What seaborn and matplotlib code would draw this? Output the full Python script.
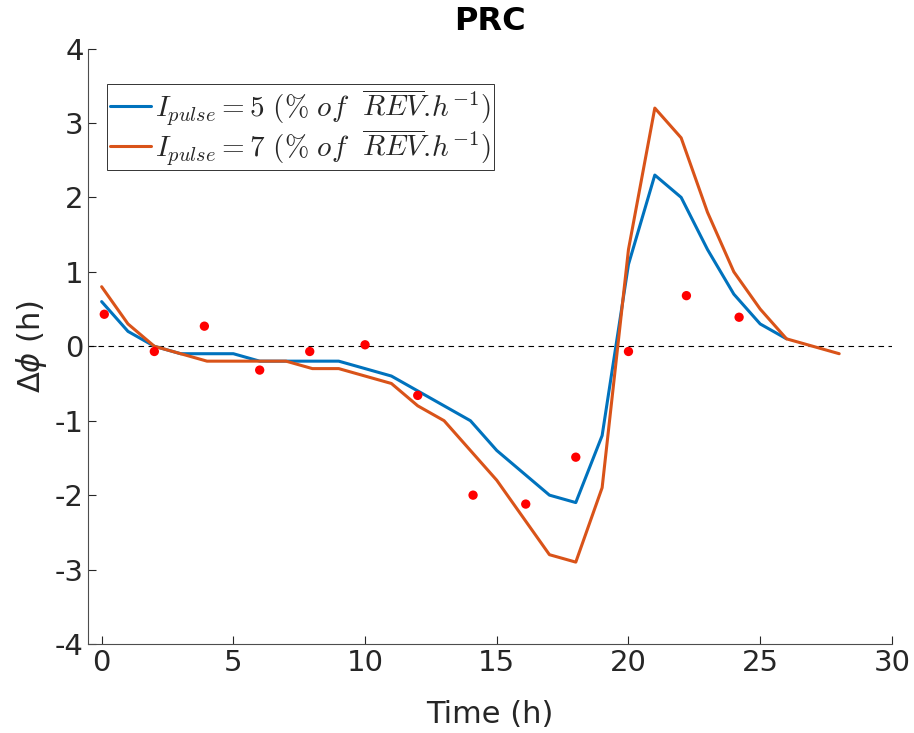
import matplotlib
matplotlib.use('Agg')
import matplotlib.pyplot as plt
from matplotlib.font_manager import FontProperties
import seaborn as sns
import pandas as pd

sns.set_style('ticks')
plt.rcParams['font.family'] = ['DejaVu Sans']
plt.rcParams['axes.unicode_minus'] = False

# data
hours_5 = list(range(0, 27))
prc_5 = [0.6, 0.2, 0.0, -0.1, -0.1, -0.1, -0.2, -0.2, -0.2, -0.2, -0.3, -0.4, -0.6, -0.8,
         -1.0, -1.4, -1.7, -2.0, -2.1, -1.2, 1.1, 2.3, 2.0, 1.3, 0.7, 0.3, 0.1]
hours_7 = list(range(0, 29))
prc_7 = [0.8, 0.3, 0.0, -0.1, -0.2, -0.2, -0.2, -0.2, -0.3, -0.3, -0.4, -0.5, -0.8, -1.0,
         -1.4, -1.8, -2.3, -2.8, -2.9, -1.9, 1.3, 3.2, 2.8, 1.8, 1.0, 0.5, 0.1, 0.0, -0.1]
exp_time = [0.1, 2.0, 3.9, 6.0, 7.9, 10.0, 12.0, 14.1, 16.1, 18.0, 20.0, 22.2, 24.2]
exp_shift = [0.43, -0.07, 0.27, -0.32, -0.07, 0.02, -0.66, -2.0, -2.12, -1.49, -0.07, 0.68, 0.39]

lab5 = r'$I_{pulse} = 5\ (\%\ of\ \ \overline{REV}.\!h^{-1})$'
lab7 = r'$I_{pulse} = 7\ (\%\ of\ \ \overline{REV}.\!h^{-1})$'

df = pd.concat([
    pd.DataFrame({'t': hours_5, 'dphi': prc_5, 'pulse': lab5}),
    pd.DataFrame({'t': hours_7, 'dphi': prc_7, 'pulse': lab7}),
])
df_exp = pd.DataFrame({'t': exp_time, 'dphi': exp_shift})

fig = plt.figure(figsize=(9.14, 7.33), dpi=100)
ax = fig.add_axes([0.0968, 0.1214, 0.879, 0.8124])

sns.lineplot(data=df, x='t', y='dphi', hue='pulse', palette=['#0072BD', '#D95319'],
             linewidth=2.2, ax=ax, sort=False)
sns.scatterplot(data=df_exp, x='t', y='dphi', color='red', s=45, edgecolor='none',
                ax=ax, zorder=3, legend=False)
ax.axhline(0, color='black', linestyle=(0, (5, 4)), linewidth=0.8, zorder=1)

ax.set_xlim(-0.5, 30)
ax.set_ylim(-4, 4)
ax.set_xticks(range(0, 31, 5))
ax.set_yticks(range(-4, 5))
ax.tick_params(direction='in', length=6, labelsize=21, colors='#262626', width=0.8)
for s in ['left', 'bottom']:
    ax.spines[s].set_color('#4d4d4d')
    ax.spines[s].set_linewidth(0.8)
sns.despine(ax=ax)

ax.set_xlabel('Time (h)', fontsize=22, color='#262626', labelpad=17)
ax.set_ylabel(r'$\Delta\phi$ (h)', fontsize=22, color='#262626', labelpad=4)
ax.set_title('PRC', fontsize=23, fontweight='bold', color='black', pad=13)

leg = ax.legend(loc='upper left', bbox_to_anchor=(0.023, 0.94),
                prop=FontProperties(size=21, math_fontfamily='cm'),
                handlelength=1.4, handletextpad=0.15, borderpad=0.1, labelspacing=0.0,
                fancybox=False, framealpha=1, borderaxespad=0)
leg.get_frame().set_edgecolor('#333333')
leg.get_frame().set_linewidth(0.7)

fig.savefig('out.png', dpi=100)
